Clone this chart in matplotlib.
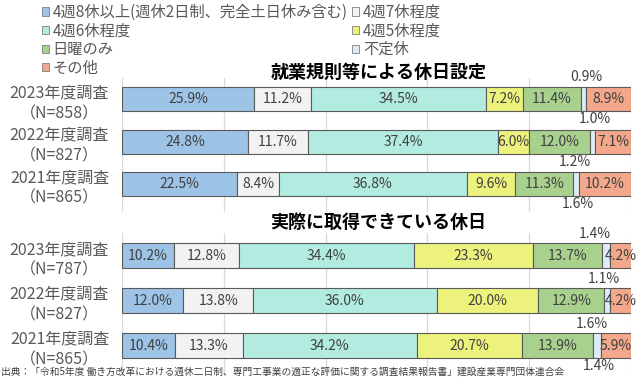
import numpy as np
import matplotlib.pyplot as plt
from matplotlib.patches import Patch

plt.rcParams['font.family'] = ['Noto Sans CJK JP', 'DejaVu Sans']

# Données
series = ['4週8休以上(週休2日制、完全土日休み含む)', '4週7休程度', '4週6休程度',
          '4週5休程度', '日曜のみ', '不定休', 'その他']
colors = ['#9DC3E6', '#F2F2F2', '#B2ECE0', '#EDF27D', '#A9D18E', '#DDEBF7', '#F3A88B']

rule_labels = ['2023年度調査\n（N=858）', '2022年度調査\n（N=827）', '2021年度調査\n（N=865）']
rule_2023 = [25.9, 11.2, 34.5, 7.2, 11.4, 0.9, 8.9]
rule_2022 = [24.8, 11.7, 37.4, 6.0, 12.0, 1.0, 7.1]
rule_2021 = [22.5, 8.4, 36.8, 9.6, 11.3, 1.2, 10.2]

actual_labels = ['2023年度調査\n（N=787）', '2022年度調査\n（N=827）', '2021年度調査\n（N=865）']
actual_2023 = [10.2, 12.8, 34.4, 23.3, 13.7, 1.4, 4.2]
actual_2022 = [12.0, 13.8, 36.0, 20.0, 12.9, 1.1, 4.2]
actual_2021 = [10.4, 13.3, 34.2, 20.7, 13.9, 1.6, 5.9]

# petits libellés "不定休" (décalage horizontal en points)
rule_small_dx = [2, 2, -1]
actual_small_dx = [-8, -2, -4]
# libellés isolés sous la dernière barre
rule_extra = '1.6%'
actual_extra = '1.4%'

W, H = 640, 380
fig = plt.figure(figsize=(W / 100, H / 100), dpi=100)


def draw(ax, labels, rows, bar_h, small_dx, extra):
    data = np.array(rows)
    y = np.arange(len(labels))
    left = np.zeros(len(labels))
    for j in range(len(series)):
        vals = data[:, j]
        ax.barh(y, vals, left=left, height=bar_h, color=colors[j],
                edgecolor='#5A5A5A', linewidth=0.8, zorder=3)
        for i, v in enumerate(vals):
            cx = left[i] + v / 2
            if j == 5:
                ax.annotate(f'{v:.1f}%', (cx, y[i]), xytext=(small_dx[i], 16),
                            textcoords='offset points', ha='center', va='center',
                            fontsize=10, color='#404040')
            else:
                ax.text(cx, y[i], f'{v:.1f}%', ha='center', va='center',
                        fontsize=10, color='#404040', zorder=4)
        left += vals
    # libellé isolé sous la dernière barre
    last = len(labels) - 1
    cx = data[last, :5].sum() + data[last, 5] / 2
    ax.annotate(extra, (cx, y[last]), xytext=(1, -14.5), textcoords='offset points',
                ha='center', va='center', fontsize=10, color='#404040')

    ax.set_xlim(0, 100)
    ax.set_xticks(np.arange(0, 101, 20))
    ax.xaxis.grid(True, color='#D9D9D9', linewidth=0.9, zorder=0)
    ax.tick_params(axis='x', length=0, labelbottom=False)
    ax.set_yticks(y)
    ax.set_yticklabels(labels, fontsize=11.5, color='#595959', ha='center',
                       linespacing=1.3)
    ax.tick_params(axis='y', length=0, pad=45)
    for s in ax.spines.values():
        s.set_visible(False)


# Axe du haut : 就業規則等による休日設定
ax1 = fig.add_axes([122 / W, 1 - 212 / H, 509 / W, 134 / H])
draw(ax1, rule_labels, [rule_2023, rule_2022, rule_2021], 0.565, rule_small_dx, rule_extra)
ax1.set_ylim(2.66, -0.5)

# Axe du bas : 実際に取得できている休日
ax2 = fig.add_axes([122 / W, 1 - 376 / H, 509 / W, 143 / H])
draw(ax2, actual_labels, [actual_2023, actual_2022, actual_2021], 0.555, actual_small_dx, actual_extra)
ax2.set_ylim(2.67, -0.51)

fig.text(379 / W, 1 - 72 / H, '就業規則等による休日設定', ha='center', va='center',
         fontsize=13, fontweight='bold', color='black')
fig.text(378 / W, 1 - 222 / H, '実際に取得できている休日', ha='center', va='center',
         fontsize=13, fontweight='bold', color='black')

# Légende (ordre Excel, lecture par lignes)
order = [0, 2, 4, 6, 1, 3, 5]
handles = [Patch(facecolor=colors[k], edgecolor='#7F7F7F', linewidth=0.6) for k in order]
fig.legend(handles, [series[k] for k in order], ncol=2, loc='upper left',
           bbox_to_anchor=(42 / W, 1 - 4 / H), frameon=False, fontsize=11,
           handlelength=0.45, handleheight=0.45, handletextpad=0.25,
           columnspacing=0.3, labelspacing=0.1, borderaxespad=0, borderpad=0,
           labelcolor='#595959')

fig.text(1 / W, 1 - 372 / H,
         '出典：「令和5年度 働き方改革における週休二日制、専門工事業の適正な評価に関する調査結果報告書」建設産業専門団体連合会',
         ha='left', va='center', fontsize=7, color='#404040')

fig.savefig('out.png', dpi=100, facecolor='white')
